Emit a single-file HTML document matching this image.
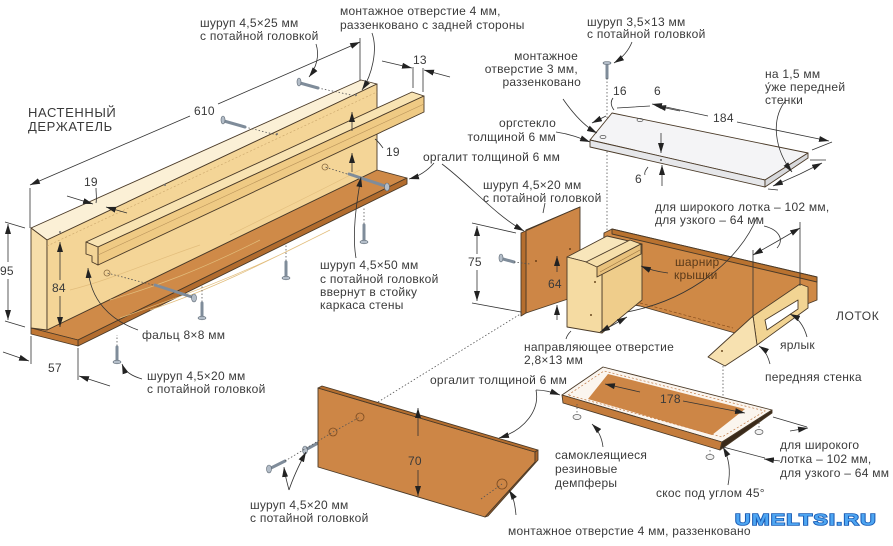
<!DOCTYPE html>
<html><head><meta charset="utf-8"><style>
html,body{margin:0;padding:0;background:#fff;}
svg{display:block;}
text{font-family:"Liberation Sans","DejaVu Sans",sans-serif;font-size:12px;fill:#3a3a3a;letter-spacing:0.25px;}
.ln{stroke:#333;stroke-width:0.8;fill:none;}
.dt{stroke:#555;stroke-width:0.8;fill:none;stroke-dasharray:1.5 2;}
.ed{stroke:#4a3a28;stroke-width:0.9;stroke-linejoin:round;}
</style></head><body>
<svg width="893" height="546" viewBox="0 0 893 546" xmlns="http://www.w3.org/2000/svg">
<defs>
<marker id="ar" markerUnits="userSpaceOnUse" markerWidth="10" markerHeight="6" refX="10" refY="3" orient="auto-start-reverse"><path d="M0,0 L10,3 L0,6 z" fill="#222"/></marker>
</defs>
<rect width="893" height="546" fill="#fff"/>

<!-- ===== WALL HOLDER ===== -->
<polygon class="ed" points="31,328 47,330 377,170 407,178 78,340" fill="#cf8a48"/>
<polygon class="ed" points="78,340 407,178 407,184 78,346" fill="#b26c2e"/>
<polygon class="ed" points="31,328 78,340 78,346 31,334" fill="#c07735"/>
<polygon class="ed" points="31,228 361,80 377,84 47,240" fill="#fbf0d6"/>
<polygon class="ed" points="31,228 47,240 47,330 31,328" fill="#f6deaa"/>
<polygon class="ed" points="47,240 377,84 377,170 47,330" fill="#f4d597"/>
<line x1="47" y1="246" x2="377" y2="92" stroke="#c9a56a" stroke-width="0.6" stroke-dasharray="2 2"/>
<path d="M110,300 C160,285 200,270 260,240 M150,310 C210,290 260,265 330,230 M70,290 C110,280 150,262 200,245 M230,235 C270,215 310,196 360,170 M120,318 C170,300 230,280 300,245" stroke="#e2bd7c" stroke-width="0.7" fill="none"/>
<polygon class="ed" points="86,242 412,92 424,96 98,247" fill="#f8e3b2"/>
<polygon class="ed" points="98,247 424,96 424,112 98,265" fill="#efca84"/>
<polygon class="ed" points="86,242 98,247 98,265 92,262 92,256 86,254" fill="#f3d496"/>
<line x1="98" y1="255" x2="424" y2="104" stroke="#b8935a" stroke-width="0.6"/>

<circle cx="107" cy="273" r="3" fill="none" stroke="#8a6a40" stroke-width="0.8"/>
<circle cx="325" cy="167" r="3" fill="none" stroke="#8a6a40" stroke-width="0.8"/>
<circle cx="165" cy="185" r="1" fill="#777"/><circle cx="277" cy="134" r="1" fill="#777"/><circle cx="356" cy="95" r="1" fill="#777"/><circle cx="60" cy="232" r="1" fill="#777"/>
<path class="dt" d="M318,88 L356,96 M245,127 L277,135 M347,174 L325,167 M153,285 L107,273 M202,302 L202,286 M286,261 L286,245 M364,224 L364,208 M117,346 L117,335"/>
<g stroke="#7f8c9a" stroke-width="3" stroke-linecap="round">
<line x1="300" y1="83" x2="318" y2="88"/><line x1="224" y1="121" x2="245" y2="127"/>
<line x1="385" y1="186" x2="349" y2="174"/><line x1="192" y1="297" x2="155" y2="285"/>
<line x1="202" y1="316" x2="202" y2="303"/><line x1="286" y1="276" x2="286" y2="262"/>
<line x1="364" y1="240" x2="364" y2="225"/><line x1="117" y1="360" x2="117" y2="347"/>
<line x1="607" y1="65" x2="607" y2="78"/><line x1="503" y1="259" x2="514" y2="262"/>
<line x1="271" y1="468" x2="285" y2="461"/><line x1="307" y1="449" x2="318" y2="443"/>
<line x1="470" y1="505" x2="481" y2="499"/>
</g>
<g fill="#b3bdc8" stroke="#5d6873" stroke-width="0.6">
<ellipse cx="299" cy="82" rx="2" ry="4"/><ellipse cx="223" cy="120" rx="2" ry="4"/>
<ellipse cx="387" cy="187" rx="2.5" ry="4"/><ellipse cx="194" cy="298" rx="2.5" ry="4"/>
<ellipse cx="202" cy="318" rx="4" ry="1.8"/><ellipse cx="286" cy="278" rx="4" ry="1.8"/>
<ellipse cx="364" cy="242" rx="4" ry="1.8"/><ellipse cx="117" cy="362" rx="4" ry="1.8"/>
<ellipse cx="607" cy="63" rx="4" ry="1.5"/><ellipse cx="501" cy="258" rx="2" ry="4"/>
<ellipse cx="269" cy="469" rx="2.5" ry="4"/><ellipse cx="305" cy="450" rx="2.5" ry="4"/>
<ellipse cx="468" cy="506" rx="2.5" ry="4"/>
</g>

<path class="ln" d="M30,188 L30,228 M360,38 L360,80" />
<line class="ln" x1="190" y1="116" x2="30" y2="185" marker-end="url(#ar)"/>
<line class="ln" x1="218" y1="104" x2="360" y2="42" marker-end="url(#ar)"/>
<line class="ln" x1="67" y1="196" x2="93" y2="204" marker-end="url(#ar)"/>
<line class="ln" x1="127" y1="213" x2="106" y2="207" marker-end="url(#ar)"/>
<path class="ln" d="M96,188 C96,194 97,198 96,203"/>
<path class="ln" d="M5,222 L25,228 M5,321 L25,327"/>
<line class="ln" x1="8" y1="262" x2="8" y2="224" marker-end="url(#ar)"/>
<line class="ln" x1="8" y1="279" x2="8" y2="320" marker-end="url(#ar)"/>
<line class="ln" x1="60" y1="280" x2="60" y2="242" marker-end="url(#ar)"/>
<line class="ln" x1="60" y1="296" x2="60" y2="327" marker-end="url(#ar)"/>
<path class="ln" d="M31,336 L31,364 M78,348 L78,380"/>
<line class="ln" x1="3" y1="352" x2="29" y2="361" marker-end="url(#ar)"/>
<line class="ln" x1="110" y1="386" x2="79" y2="376" marker-end="url(#ar)"/>
<path class="ln" d="M413,67 L413,88 M423,68 L423,92"/>
<line class="ln" x1="382" y1="61" x2="412" y2="68" marker-end="url(#ar)"/>
<line class="ln" x1="450" y1="77" x2="424" y2="70" marker-end="url(#ar)"/>
<line class="ln" x1="352" y1="131" x2="352" y2="112" marker-end="url(#ar)"/>
<line class="ln" x1="352" y1="172" x2="352" y2="153" marker-end="url(#ar)"/>
<path class="ln" d="M383,148 C380,144 378,141 375,139"/>

<path class="ln" d="M316,44 C320,56 316,68 309,77" marker-end="url(#ar)"/>
<path class="ln" d="M372,33 C378,50 372,75 362,90" marker-end="url(#ar)"/>
<path class="ln" d="M434,163 C428,170 420,176 409,179" marker-end="url(#ar)"/>
<path class="ln" d="M442,164 C470,185 495,215 524,231" marker-end="url(#ar)"/>
<path class="ln" d="M356,258 C352,235 356,205 361,177" marker-end="url(#ar)"/>
<path class="ln" d="M138,330 C110,320 90,300 88,268" marker-end="url(#ar)"/>
<path class="ln" d="M142,379 C132,376 125,372 122,364" marker-end="url(#ar)"/>
<path class="ln" d="M289,490 C287,482 285,476 284,467" marker-end="url(#ar)"/>
<path class="ln" d="M289,490 C293,478 299,465 306,452" marker-end="url(#ar)"/>

<!-- ===== LID ===== -->
<path class="dt" d="M607,78 L607,236"/>
<polygon class="ed" points="590,140 612,113 808,153 765,180" fill="#f4f4f6" stroke="#444"/>
<polygon class="ed" points="590,140 765,180 765,187 590,147" fill="#e6e7ea" stroke="#444"/>
<polygon class="ed" points="765,180 808,153 808,158 765,187" fill="#d8d9dc" stroke="#444"/>
<ellipse cx="603" cy="137" rx="3" ry="1.6" fill="none" stroke="#555" stroke-width="0.7"/>
<ellipse cx="640" cy="120" rx="3" ry="1.6" fill="none" stroke="#555" stroke-width="0.7"/>
<circle cx="661" cy="160" r="1" fill="#555"/>
<line class="ln" x1="606" y1="116" x2="592" y2="123" marker-end="url(#ar)"/>
<path class="ln" d="M613,98 C610,102 611,106 614,110 M617,108 L650,106"/>
<line class="ln" x1="680" y1="111" x2="656" y2="106" marker-end="url(#ar)"/>
<line class="ln" x1="708" y1="116" x2="652" y2="104" marker-end="url(#ar)"/>
<line class="ln" x1="737" y1="122" x2="829" y2="141" marker-end="url(#ar)"/>
<path class="ln" d="M812,150 L832,142"/>
<line class="ln" x1="661" y1="133" x2="661" y2="153" marker-end="url(#ar)"/>
<line class="ln" x1="662" y1="186" x2="662" y2="165" marker-end="url(#ar)"/>
<path class="ln" d="M648,167 C646,170 644,172 645,175"/>
<line class="ln" x1="800" y1="174" x2="773" y2="186" marker-end="url(#ar)"/>
<line class="ln" x1="800" y1="174" x2="822" y2="163" marker-end="url(#ar)"/>
<path class="ln" d="M810,160 L826,160 M768,189 L778,190"/>
<path class="ln" d="M632,42 C628,52 622,58 614,63" marker-end="url(#ar)"/>
<path class="ln" d="M563,99 C572,112 584,126 597,133" marker-end="url(#ar)"/>
<path class="ln" d="M556,132 C570,134 580,138 590,142" marker-end="url(#ar)"/>
<path class="ln" d="M786,100 C770,120 775,150 792,172" marker-end="url(#ar)"/>

<!-- ===== TRAY ===== -->
<polygon class="ed" points="604,233 612,229 817,277 817,300 735,333 640,306 602,300" fill="#cf8946"/>
<polygon class="ed" points="612,229 817,277 817,282 612,234" fill="#b9722f"/>
<path d="M640,303 L733,328" stroke="#8a4f1e" stroke-width="0.7" stroke-dasharray="3 2" fill="none"/>
<polygon class="ed" points="526,230 580,207 580,295 526,313" fill="#cd8646"/>
<polygon class="ed" points="521,233 575,209 580,207 526,230 526,313 521,316" fill="#b56e2e"/>
<circle cx="536" cy="261" r="1" fill="#6b3f18"/><circle cx="570" cy="249" r="1" fill="#6b3f18"/>
<path class="dt" d="M514,262 L530,264"/>
<polygon class="ed" points="602,266 642,244 642,300 602,333" fill="#efcd8b"/>
<polygon class="ed" points="567,257 607,236 642,244 602,266" fill="#f8e6bb"/>
<polygon class="ed" points="567,257 602,266 602,333 567,327" fill="#f5dba2"/>
<polygon class="ed" points="586,262 630,240 641,244 597,267" fill="#f6dfab"/>
<polygon class="ed" points="597,267 641,244 641,254 597,277" fill="#e8c17c"/>
<line x1="600" y1="272" x2="640" y2="250" stroke="#9a7440" stroke-width="0.6"/>
<circle cx="595" cy="282" r="1" fill="#6b4a20"/><circle cx="591" cy="315" r="1" fill="#6b4a20"/>
<polygon class="ed" points="753,316 800,284 808,287 808,308 757,345" fill="#f2d493"/>
<polygon class="ed" points="708,357 753,316 757,345 725,366" fill="#f7e1b0"/>
<polygon class="ed" points="765,320 798,300 798,309 767,330" fill="#fff"/>
<circle cx="722" cy="351" r="1" fill="#6b4a20"/>
<path class="ln" d="M472,223 L516,233 M472,303 L521,312"/>
<line class="ln" x1="477" y1="254" x2="477" y2="226" marker-end="url(#ar)"/>
<line class="ln" x1="477" y1="270" x2="477" y2="301" marker-end="url(#ar)"/>
<line class="ln" x1="557" y1="272" x2="557" y2="256" marker-end="url(#ar)"/>
<line class="ln" x1="557" y1="320" x2="557" y2="305" marker-end="url(#ar)"/>
<line class="ln" x1="613" y1="325" x2="600" y2="332" marker-end="url(#ar)"/>
<line class="ln" x1="613" y1="325" x2="627" y2="317" marker-end="url(#ar)"/>
<path class="ln" d="M753,250 L753,318 M800,222 L800,286"/>
<line class="ln" x1="776" y1="242" x2="753" y2="255" marker-end="url(#ar)"/>
<line class="ln" x1="776" y1="242" x2="800" y2="228" marker-end="url(#ar)"/>
<path class="ln" d="M668,273 C660,272 650,270 641,266" marker-end="url(#ar)"/>
<path class="ln" d="M757,217 C740,260 690,300 627,312"/>
<path class="ln" d="M764,226 C780,230 784,240 777,248"/>
<path class="ln" d="M807,337 C804,326 798,318 790,314" marker-end="url(#ar)"/>
<path class="ln" d="M770,364 C768,356 765,350 759,346" marker-end="url(#ar)"/>
<path class="ln" d="M566,339 C567,335 569,333 571,331"/>
<path class="ln" d="M545,203 L543,213"/>

<!-- ===== LONG BOARD ===== -->
<path class="dt" d="M378,402 L522,313"/>
<polygon class="ed" points="318,388 535,452 535,462 485,517 318,467" fill="#cd8646"/>
<polygon class="ed" points="318,388 322,386 538,450 535,452" fill="#b56e2e"/>
<polygon class="ed" points="535,452 538,450 538,460 488,516 485,517 535,462" fill="#a9642a"/>
<circle cx="333" cy="432" r="4" fill="none" stroke="#7a4a20" stroke-width="0.8"/>
<circle cx="360" cy="417" r="4" fill="none" stroke="#7a4a20" stroke-width="0.8"/>
<circle cx="502" cy="484" r="5" fill="none" stroke="#7a4a20" stroke-width="0.8"/>
<path class="dt" d="M285,461 L333,432 L360,417 M481,499 L502,484"/>
<line class="ln" x1="418" y1="436" x2="418" y2="408" marker-end="url(#ar)"/>
<line class="ln" x1="418" y1="470" x2="418" y2="496" marker-end="url(#ar)"/>

<!-- ===== BOTTOM PANEL ===== -->
<path class="dt" d="M723,366 L723,440"/>
<polygon class="ed" points="562,395 603,367 772,410 722,442" fill="#fbf5ee" stroke="#444"/>
<polygon points="588,399 608,374 745,409 712,435" fill="#cd8646"/>
<polygon points="568,395 604,371 765,411 722,437" fill="none" stroke="#c07a45" stroke-width="0.7" stroke-dasharray="2 2"/>
<polygon class="ed" points="562,395 722,442 720,450 563,403" fill="#c47c3c" stroke="#444"/>
<polygon class="ed" points="722,442 772,410 772,413 720,450" fill="#3a2a1a"/>
<line class="ln" x1="640" y1="392" x2="605" y2="384" marker-end="url(#ar)"/>
<line class="ln" x1="683" y1="401" x2="745" y2="413" marker-end="url(#ar)"/>
<g fill="#f2f2f2" stroke="#555" stroke-width="0.7">
<ellipse cx="577" cy="417" rx="4" ry="2.5"/><ellipse cx="710" cy="457" rx="4" ry="2.5"/><ellipse cx="759" cy="432" rx="4" ry="2.5"/>
</g>
<path class="dt" d="M577,404 L577,414 M710,450 L710,454 M759,419 L759,429"/>
<path class="ln" d="M536,390 C540,410 525,430 499,438" marker-end="url(#ar)"/>
<path class="ln" d="M536,390 C545,390 552,392 560,395" marker-end="url(#ar)"/>
<path class="ln" d="M603,447 C602,438 598,430 592,424" marker-end="url(#ar)"/>
<path class="ln" d="M728,485 C731,470 729,458 723,447" marker-end="url(#ar)"/>
<path class="ln" d="M723,447 L765,458 M773,417 L807,427"/>
<line class="ln" x1="790" y1="431" x2="808" y2="428" marker-end="url(#ar)"/>
<line class="ln" x1="780" y1="461" x2="764" y2="459" marker-end="url(#ar)"/>
<path class="ln" d="M516,515 C515,505 514,498 509,490" marker-end="url(#ar)"/>

<!-- ===== TEXT ===== -->
<text x="28" y="117" style="font-size:13px;letter-spacing:0.6px">НАСТЕННЫЙ</text>
<text x="28" y="131" style="font-size:13px;letter-spacing:0.6px">ДЕРЖАТЕЛЬ</text>
<text x="194" y="115">610</text>
<text x="84" y="186">19</text>
<text x="0" y="275">95</text>
<text x="52" y="292">84</text>
<text x="48" y="372">57</text>
<text x="413" y="64">13</text>
<text x="386" y="156">19</text>
<text x="200" y="27">шуруп 4,5×25 мм</text>
<text x="200" y="40">с потайной головкой</text>
<text x="340" y="15">монтажное отверстие 4 мм,</text>
<text x="340" y="29">раззенковано с задней стороны</text>
<text x="423" y="161">оргалит толщиной 6 мм</text>
<text x="320" y="269">шуруп 4,5×50 мм</text>
<text x="320" y="283">с потайной головкой</text>
<text x="320" y="296">ввернут в стойку</text>
<text x="320" y="309">каркаса стены</text>
<text x="142" y="339">фальц 8×8 мм</text>
<text x="147" y="380">шуруп 4,5×20 мм</text>
<text x="147" y="393">с потайной головкой</text>
<text x="250" y="509">шуруп 4,5×20 мм</text>
<text x="250" y="522">с потайной головкой</text>
<text x="408" y="465">70</text>

<text x="587" y="26">шуруп 3,5×13 мм</text>
<text x="587" y="38">с потайной головкой</text>
<text x="578" y="60" text-anchor="end">монтажное</text>
<text x="578" y="73" text-anchor="end">отверстие 3 мм,</text>
<text x="581" y="86" text-anchor="end">раззенковано</text>
<text x="556" y="127" text-anchor="end">оргстекло</text>
<text x="556" y="141" text-anchor="end">толщиной 6 мм</text>
<text x="613" y="95">16</text>
<text x="654" y="95">6</text>
<text x="713" y="122">184</text>
<text x="635" y="183">6</text>
<text x="765" y="78">на 1,5 мм</text>
<text x="765" y="91">у́же передней</text>
<text x="765" y="104">стенки</text>

<text x="483" y="189">шуруп 4,5×20 мм</text>
<text x="483" y="202">с потайной головкой</text>
<text x="655" y="211">для широкого лотка – 102 мм,</text>
<text x="655" y="224">для узкого – 64 мм</text>
<text x="675" y="266" style="fill:#5a3a1a">шарнир</text>
<text x="674" y="279" style="fill:#5a3a1a">крышки</text>
<text x="468" y="266">75</text>
<text x="548" y="288">64</text>
<text x="836" y="320" style="letter-spacing:0.6px">ЛОТОК</text>
<text x="780" y="349">ярлык</text>
<text x="765" y="381">передняя стенка</text>
<text x="524" y="351">направляющее отверстие</text>
<text x="524" y="364">2,8×13 мм</text>
<text x="430" y="384">оргалит толщиной 6 мм</text>
<text x="660" y="403">178</text>
<text x="555" y="459">самоклеящиеся</text>
<text x="555" y="473">резиновые</text>
<text x="555" y="487">демпферы</text>
<text x="656" y="497">скос под углом 45°</text>
<text x="780" y="449">для широкого</text>
<text x="780" y="463">лотка – 102 мм,</text>
<text x="780" y="477">для узкого – 64 мм</text>
<text x="508" y="535">монтажное отверстие 4 мм, раззенковано</text>

<text x="735" y="525" textLength="142" lengthAdjust="spacingAndGlyphs" style="font-size:16px;font-weight:bold;fill:#4ea6f2;stroke:#1a5cb5;stroke-width:1.6px;paint-order:stroke;letter-spacing:1px">UMELTSI.RU</text>
</svg>
</body></html>
